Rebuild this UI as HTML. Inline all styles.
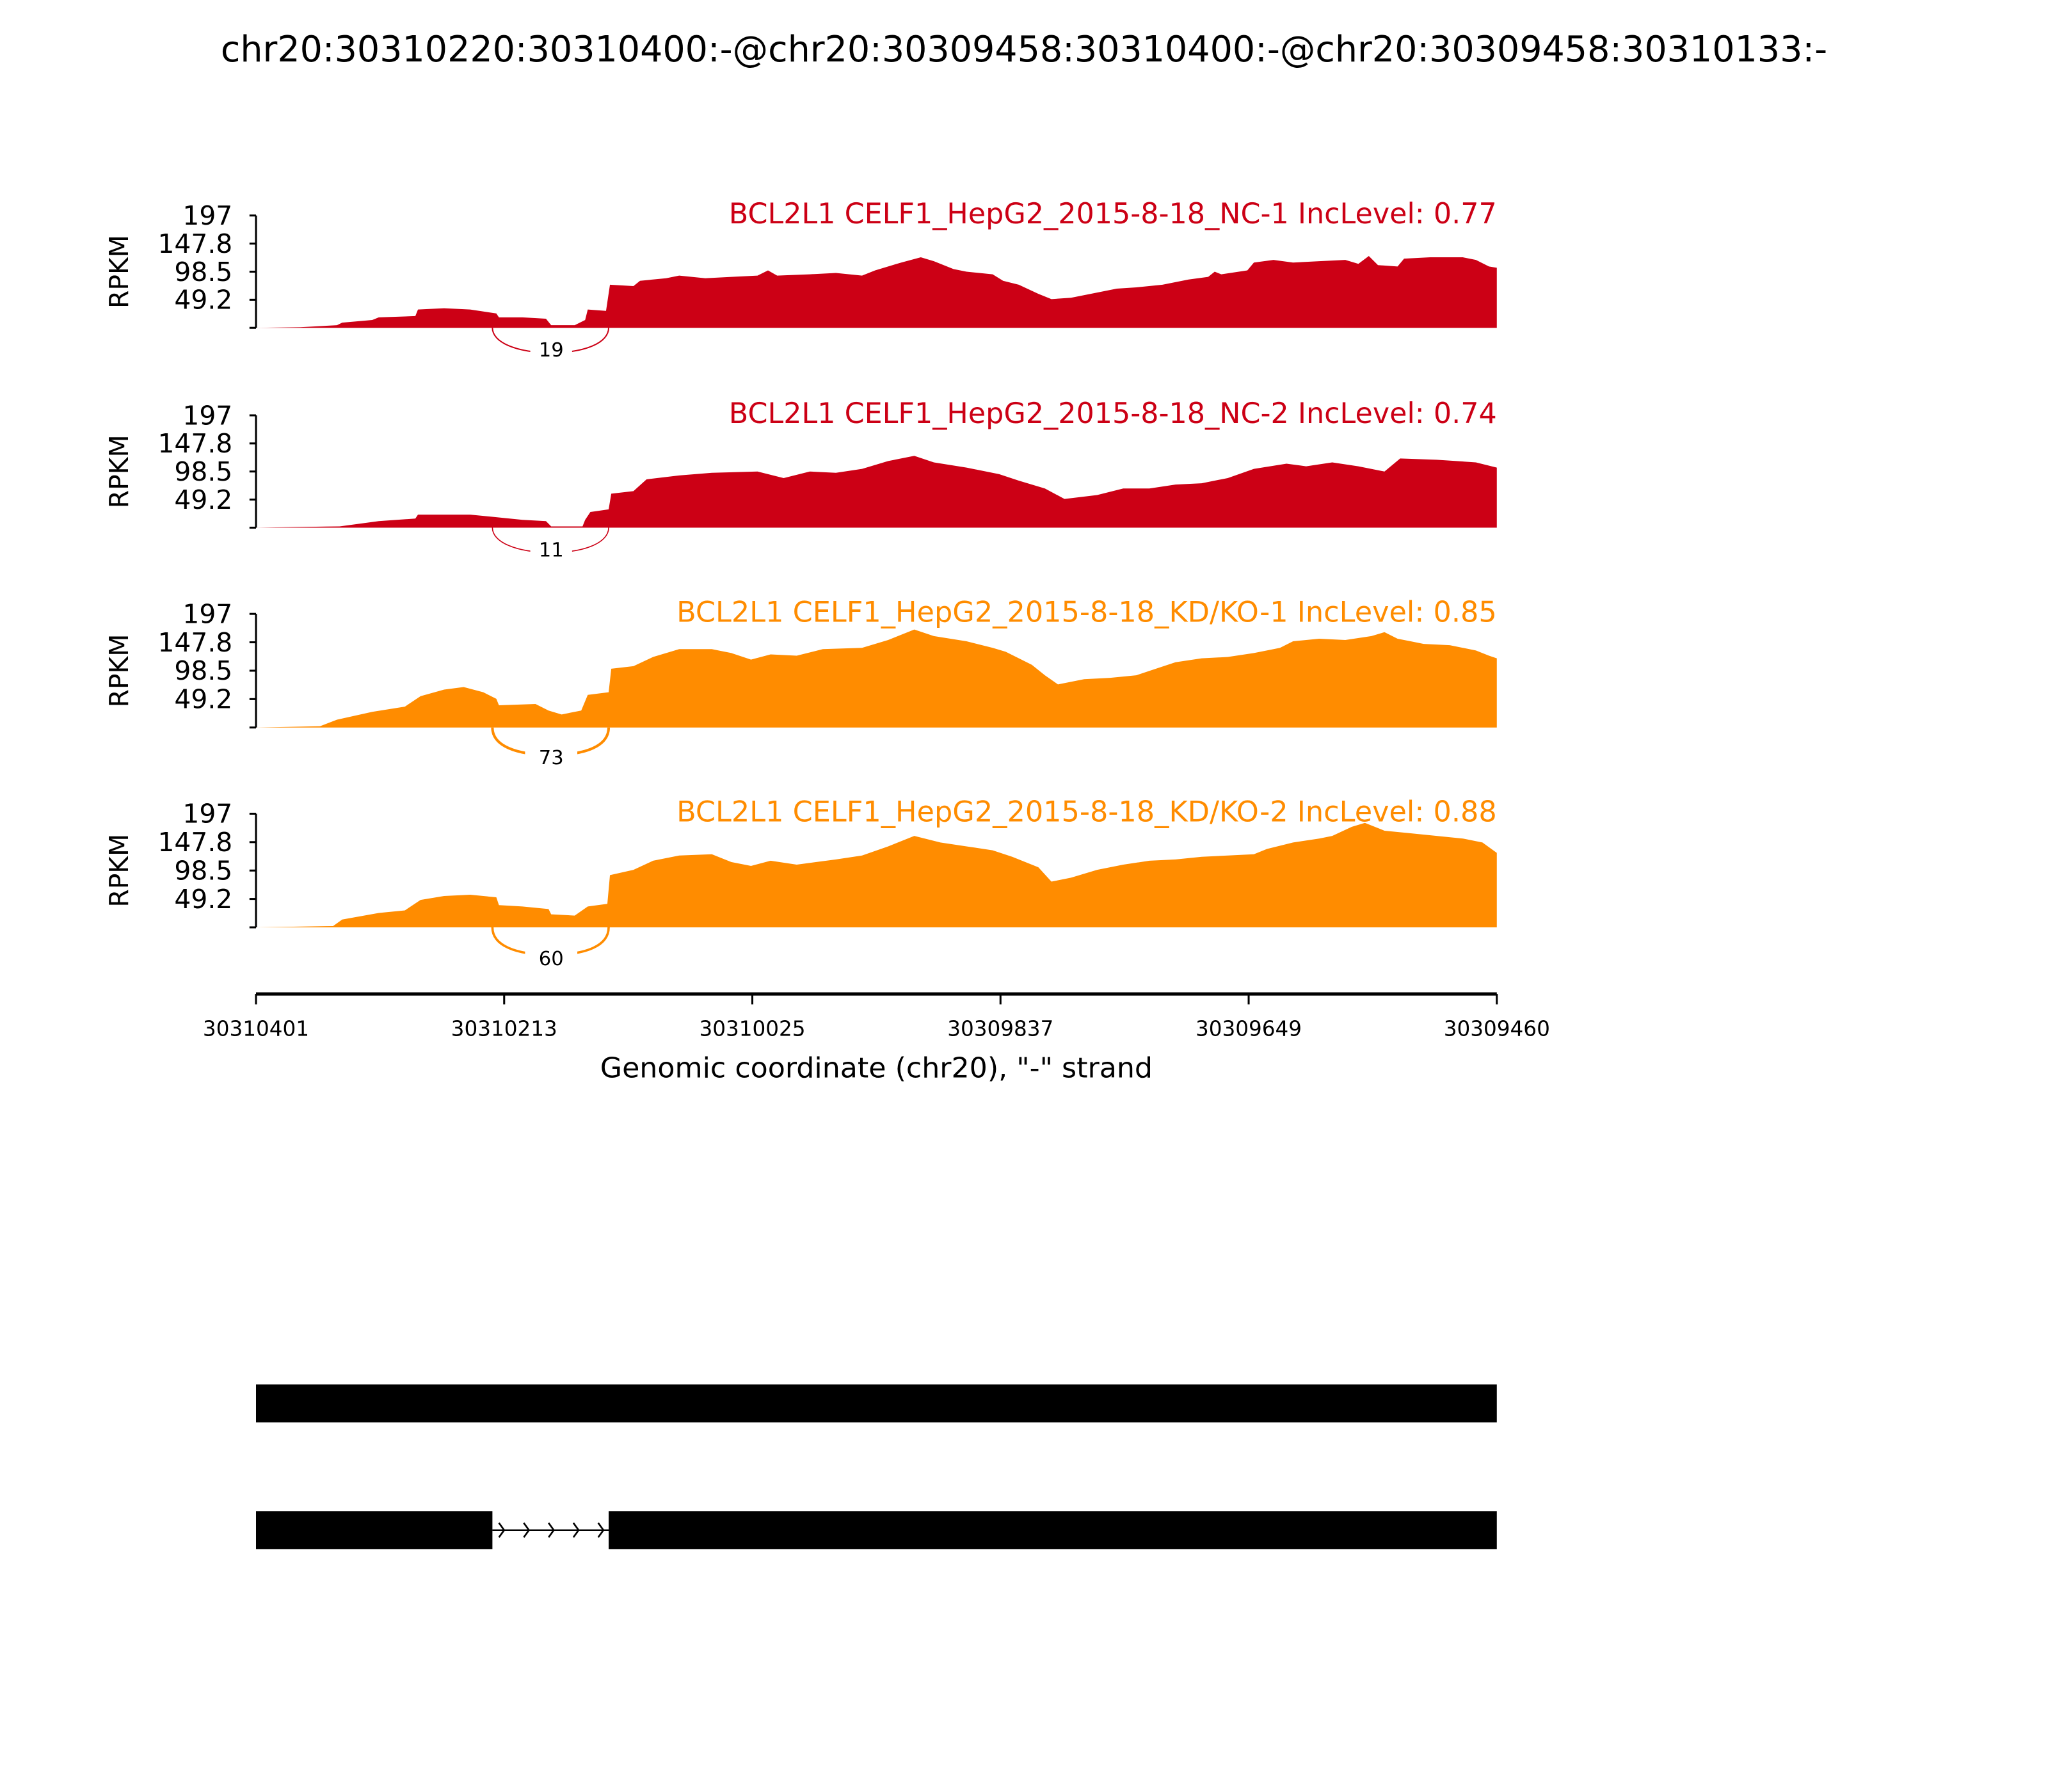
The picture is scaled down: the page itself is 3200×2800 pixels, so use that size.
<!DOCTYPE html>
<html><head><meta charset="utf-8"><style>html,body{margin:0;padding:0;background:#fff}svg{display:block}</style></head>
<body>
<svg xmlns="http://www.w3.org/2000/svg" width="3200" height="2800" viewBox="0 0 1568 1372" font-family="'DejaVu Sans','Liberation Sans',sans-serif">
<rect width="1568" height="1372" fill="#fff"/>
<text x="784" y="47" font-size="27.5" text-anchor="middle" textLength="1230" lengthAdjust="spacingAndGlyphs">chr20:30310220:30310400:-@chr20:30309458:30310400:-@chr20:30309458:30310133:-</text>

<!-- Panel 1 -->
<g>
<polygon fill="#CC0015" points="196,251 230,250.5 258,249 262,247 285,245 290,243 318,242 320,237 340,236 360,237 380,240 382,243 400,243 418,244 422,249 440,249 448,245 450,237 464,238 467,218 485,219 490,215 510,213 520,211 540,213 560,212 580,211 588,207 595,211 620,210 640,209 660,211 670,207 690,201 705,197 715,200 730,206 740,208 760,210 768,215 780,218 795,225 805,229 820,228 840,224 855,221 870,220 890,218 910,214 925,212 930,208 935,210 955,207 960,201 975,199 990,201 1010,200 1030,199 1040,202 1048,196 1055,203 1070,204 1075,198 1095,197 1120,197 1130,199 1140,204 1146,205 1146,251"/>
<line x1="196" y1="165" x2="196" y2="251" stroke="#000" stroke-width="1.5"/>
<g stroke="#000" stroke-width="1.5"><line x1="191" y1="165" x2="196" y2="165"/><line x1="191" y1="186.5" x2="196" y2="186.5"/><line x1="191" y1="208" x2="196" y2="208"/><line x1="191" y1="229.5" x2="196" y2="229.5"/><line x1="191" y1="251" x2="196" y2="251"/></g>
<g font-size="20" text-anchor="end"><text x="178" y="172">197</text><text x="178" y="193.5">147.8</text><text x="178" y="215">98.5</text><text x="178" y="236.5">49.2</text></g>
<text font-size="20" text-anchor="middle" transform="translate(98,208) rotate(-90)">RPKM</text>
<text x="1146" y="171" font-size="22" fill="#CC0015" text-anchor="end" textLength="588" lengthAdjust="spacingAndGlyphs">BCL2L1 CELF1_HepG2_2015-8-18_NC-1 IncLevel: 0.77</text>
<path d="M377,251 C377,262 395,270 422,270 C449,270 466,262 466,251" fill="none" stroke="#CC0015" stroke-width="1"/>
<rect x="406" y="259" width="32" height="18" fill="#fff"/>
<text x="422" y="273" font-size="15" text-anchor="middle">19</text>
</g>

<!-- Panel 2 -->
<g>
<polygon fill="#CC0015" points="196,404 260,403 290,399 318,397 320,394 360,394 380,396 400,398 418,399 422,403 446,403 448,398 452,392 466,390 468,378 485,376 495,367 520,364 545,362 580,361 600,366 620,361 640,362 660,359 680,353 700,349 715,354 740,358 765,363 780,368 800,374 815,382 840,379 860,374 880,374 900,371 920,370 940,366 960,359 985,355 1000,357 1020,354 1040,357 1060,361 1072,351 1100,352 1130,354 1146,358 1146,404"/>
<line x1="196" y1="318" x2="196" y2="404" stroke="#000" stroke-width="1.5"/>
<g stroke="#000" stroke-width="1.5"><line x1="191" y1="318" x2="196" y2="318"/><line x1="191" y1="339.5" x2="196" y2="339.5"/><line x1="191" y1="361" x2="196" y2="361"/><line x1="191" y1="382.5" x2="196" y2="382.5"/><line x1="191" y1="404" x2="196" y2="404"/></g>
<g font-size="20" text-anchor="end"><text x="178" y="325">197</text><text x="178" y="346.5">147.8</text><text x="178" y="368">98.5</text><text x="178" y="389.5">49.2</text></g>
<text font-size="20" text-anchor="middle" transform="translate(98,361) rotate(-90)">RPKM</text>
<text x="1146" y="324" font-size="22" fill="#CC0015" text-anchor="end" textLength="588" lengthAdjust="spacingAndGlyphs">BCL2L1 CELF1_HepG2_2015-8-18_NC-2 IncLevel: 0.74</text>
<path d="M377,404 C377,415 395,423 422,423 C449,423 466,415 466,404" fill="none" stroke="#CC0015" stroke-width="0.8"/>
<rect x="406" y="412" width="32" height="18" fill="#fff"/>
<text x="422" y="426" font-size="15" text-anchor="middle">11</text>
</g>

<!-- Panel 3 -->
<g>
<polygon fill="#FF8C00" points="196,557 245,556 258,551 285,545 310,541 322,533 340,528 355,526 370,530 380,535 382,540 410,539 420,544 430,547 445,544 450,532 466,530 468,512 485,510 500,503 520,497 545,497 560,500 575,505 590,501 610,502 630,497 660,496 680,490 700,482 715,487 740,491 760,496 770,499 790,509 800,517 810,524 830,520 850,519 870,517 885,512 900,507 920,504 940,503 960,500 980,496 990,491 1010,489 1030,490 1050,487 1060,484 1070,489 1080,491 1090,493 1110,494 1130,498 1140,502 1146,504 1146,557"/>
<line x1="196" y1="470" x2="196" y2="557" stroke="#000" stroke-width="1.5"/>
<g stroke="#000" stroke-width="1.5"><line x1="191" y1="470" x2="196" y2="470"/><line x1="191" y1="491.75" x2="196" y2="491.75"/><line x1="191" y1="513.5" x2="196" y2="513.5"/><line x1="191" y1="535.25" x2="196" y2="535.25"/><line x1="191" y1="557" x2="196" y2="557"/></g>
<g font-size="20" text-anchor="end"><text x="178" y="477">197</text><text x="178" y="498.75">147.8</text><text x="178" y="520.5">98.5</text><text x="178" y="542.25">49.2</text></g>
<text font-size="20" text-anchor="middle" transform="translate(98,513.5) rotate(-90)">RPKM</text>
<text x="1146" y="476" font-size="22" fill="#FF8C00" text-anchor="end" textLength="628" lengthAdjust="spacingAndGlyphs">BCL2L1 CELF1_HepG2_2015-8-18_KD/KO-1 IncLevel: 0.85</text>
<path d="M377,557 C377,571 395,578 422,578 C449,578 466,571 466,557" fill="none" stroke="#FF8C00" stroke-width="2"/>
<rect x="402" y="566" width="40" height="20" fill="#fff"/>
<text x="422" y="585" font-size="15" text-anchor="middle">73</text>
</g>

<!-- Panel 4 -->
<g>
<polygon fill="#FF8C00" points="196,710 255,709 262,704 290,699 310,697 322,689 340,686 360,685 380,687 382,693 400,694 420,696 422,700 440,701 450,694 465,692 467,670 485,666 500,659 520,655 545,654 560,660 575,663 590,659 610,662 640,658 660,655 680,648 700,640 720,645 740,648 760,651 775,656 795,664 805,675 820,672 840,666 860,662 880,659 900,658 920,656 940,655 960,654 970,650 990,645 1010,642 1020,640 1035,633 1045,630 1060,636 1080,638 1100,640 1120,642 1135,645 1146,653 1146,710"/>
<line x1="196" y1="623" x2="196" y2="710" stroke="#000" stroke-width="1.5"/>
<g stroke="#000" stroke-width="1.5"><line x1="191" y1="623" x2="196" y2="623"/><line x1="191" y1="644.75" x2="196" y2="644.75"/><line x1="191" y1="666.5" x2="196" y2="666.5"/><line x1="191" y1="688.25" x2="196" y2="688.25"/><line x1="191" y1="710" x2="196" y2="710"/></g>
<g font-size="20" text-anchor="end"><text x="178" y="630">197</text><text x="178" y="651.75">147.8</text><text x="178" y="673.5">98.5</text><text x="178" y="695.25">49.2</text></g>
<text font-size="20" text-anchor="middle" transform="translate(98,666.5) rotate(-90)">RPKM</text>
<text x="1146" y="629" font-size="22" fill="#FF8C00" text-anchor="end" textLength="628" lengthAdjust="spacingAndGlyphs">BCL2L1 CELF1_HepG2_2015-8-18_KD/KO-2 IncLevel: 0.88</text>
<path d="M377,710 C377,724 395,731 422,731 C449,731 466,724 466,710" fill="none" stroke="#FF8C00" stroke-width="1.8"/>
<rect x="402" y="719" width="40" height="20" fill="#fff"/>
<text x="422" y="739" font-size="15" text-anchor="middle">60</text>
</g>

<!-- X axis -->
<line x1="196" y1="761" x2="1146" y2="761" stroke="#000" stroke-width="2.5"/>
<g stroke="#000" stroke-width="1.5"><line x1="196" y1="761" x2="196" y2="769"/><line x1="386" y1="761" x2="386" y2="769"/><line x1="576" y1="761" x2="576" y2="769"/><line x1="766" y1="761" x2="766" y2="769"/><line x1="956" y1="761" x2="956" y2="769"/><line x1="1146" y1="761" x2="1146" y2="769"/></g>
<g font-size="16" text-anchor="middle"><text x="196" y="793">30310401</text><text x="386" y="793">30310213</text><text x="576" y="793">30310025</text><text x="766" y="793">30309837</text><text x="956" y="793">30309649</text><text x="1146" y="793">30309460</text></g>
<text x="671" y="825" font-size="21.5" text-anchor="middle" textLength="423" lengthAdjust="spacingAndGlyphs">Genomic coordinate (chr20), "-" strand</text>

<!-- Gene tracks -->
<rect x="196" y="1060" width="950" height="29" fill="#000"/>
<rect x="196" y="1157" width="181" height="29" fill="#000"/>
<rect x="466" y="1157" width="680" height="29" fill="#000"/>
<line x1="377" y1="1171.5" x2="466" y2="1171.5" stroke="#000" stroke-width="1.2"/>
<g fill="none" stroke="#000" stroke-width="1.3"><path d="M382,1166 L386,1171.5 L382,1177"/><path d="M401,1166 L405,1171.5 L401,1177"/><path d="M420,1166 L424,1171.5 L420,1177"/><path d="M439,1166 L443,1171.5 L439,1177"/><path d="M458,1166 L462,1171.5 L458,1177"/></g>
</svg>
</body></html>
